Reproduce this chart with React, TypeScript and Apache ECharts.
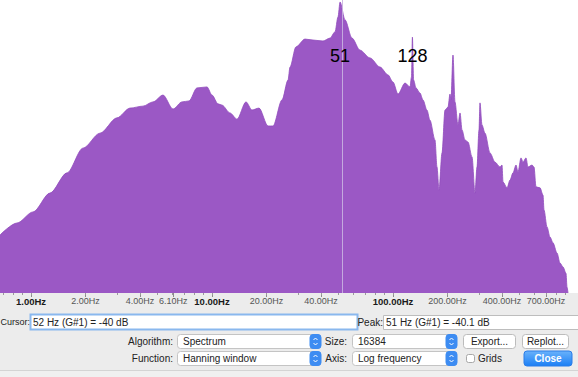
import React, { useEffect, useRef } from "react";
import * as echarts from "echarts";

// Spectrum (frequency in Hz, level in dB)
const freqHz = [
  0.674, 0.837, 1.026, 1.273, 1.581, 1.938, 2.406, 2.987, 3.524, 4.157,
  4.721, 5.362, 6.088, 6.829, 7.464, 8.263, 9.384, 10.0, 10.8, 11.36,
  12.57, 13.75, 15.41, 16.63, 18.18, 20.39, 21.73, 24.37, 26.3, 26.98,
  29.1, 32.65, 36.14, 41.05, 44.87, 47.82, 49.67, 51.0, 54.3, 59.35,
  65.7, 74.7, 84.8, 93.8, 100, 106.6, 116.5, 124.1, 126.5, 128.0,
  130.0, 134, 141, 146.5, 154, 160, 170.6, 175, 179.6, 186.5,
  193.8, 201.3, 206.5, 209.0, 214.5, 220, 228.6, 234.6, 240.6, 249.9,
  259.6, 273.3, 283.8, 291.1, 298.6, 302.4, 310.2, 322.3, 343.6, 366.1,
  390.1, 400.2, 405.3, 426.5, 443.1, 460.3, 478.2, 490.5, 509.6, 522.7,
  543.1, 557.1, 586.2, 601.2, 616.7, 649, 674.2, 682.9, 709.4, 736.9,
  765.6, 805.6, 837, 869.6, 903.3, 914.9, 926.8,
];
const levelDb = [
  -111.7, -108.0, -104.6, -98.8, -92.6, -85.0, -80.4, -75.7, -72.7, -72.1,
  -70.8, -68.7, -73.0, -70.8, -70.5, -66.5, -66.2, -68.7, -71.4, -71.8,
  -74.2, -76.1, -70.8, -73.3, -72.7, -78.2, -78.2, -70.2, -64.1, -60.1,
  -53.9, -51.5, -51.8, -52.1, -51.2, -49.3, -44.7, -40.1, -45.6, -51.2,
  -54.9, -57.3, -60.1, -62.5, -64.7, -68.4, -65.0, -66.2, -63.2, -50.9,
  -64.1, -66.5, -68.1, -70.2, -73.3, -76.4, -82.5, -90.8, -97.9, -86.5,
  -73.3, -72.4, -68.4, -70.2, -56.4, -70.8, -77.9, -74.2, -79.4, -82.5,
  -83.1, -87.7, -98.8, -90.8, -79.4, -71.1, -77.9, -80.4, -86.5, -89.3,
  -90.8, -90.2, -95.4, -97.2, -94.8, -92.6, -90.2, -92.3, -88.0, -89.3,
  -88.0, -90.8, -90.2, -90.8, -96.9, -97.2, -99.4, -104.0, -109.2, -112.3,
  -114.1, -117.2, -120.3, -121.5, -123.4, -127.7, -129.5,
];

const labelTicksHz = [1, 2, 4, 6.1, 10, 20, 40, 100, 200, 400, 700];
const minorTicksHz = [
  0.7, 0.8, 0.9, 1, 2, 3, 4, 5, 6, 7, 8, 9, 10, 20, 30, 40, 50, 60, 70, 80,
  90, 100, 200, 300, 400, 500, 600, 700, 800, 900,
];
const peakLabels = [51, 128];
const peakLabelDb = -56.7;
const cursorHz = 52;

const X_MIN = -0.1713;
const X_MAX = 3.0221;
const Y_MIN = -129.5;
const Y_MAX = -39.5;

const UI_FONT = "Liberation Sans, Arial, sans-serif";

function txt(x: number, y: number, text: string, align = "left", color = "#222", size = 10, weight = "normal") {
  return {
    type: "text",
    x,
    y,
    silent: true,
    style: {
      text,
      fill: color,
      font: `${weight} ${size}px ${UI_FONT}`,
      textAlign: align,
      textVerticalAlign: "middle",
    },
  };
}

function box(x: number, y: number, w: number, h: number, fill: any, stroke: string, r = 3, lw = 1) {
  return {
    type: "rect",
    silent: true,
    shape: { x, y, width: w, height: h, r },
    style: { fill, stroke, lineWidth: lw },
  };
}

function stepper(x: number, y: number, w: number, h: number) {
  const cx = x + w / 2;
  const cy = y + h / 2;
  return [
    box(x, y, w, h, "#3d8cf2", "#3d8cf2", 3),
    {
      type: "polyline",
      silent: true,
      shape: { points: [[cx - 2, cy - 1.5], [cx, cy - 3.5], [cx + 2, cy - 1.5]] },
      style: { stroke: "#fff", lineWidth: 1, fill: null },
    },
    {
      type: "polyline",
      silent: true,
      shape: { points: [[cx - 2, cy + 1.5], [cx, cy + 3.5], [cx + 2, cy + 1.5]] },
      style: { stroke: "#fff", lineWidth: 1, fill: null },
    },
  ];
}

export default function App() {
  const ref = useRef<HTMLDivElement>(null);

  useEffect(() => {
    if (!ref.current) return;
    const chart = echarts.init(ref.current, null, { renderer: "svg" });
    const data = freqHz.map((f, i) => [Math.log10(f), levelDb[i]]);

    const fmt = (v: number) => {
      const f = Math.pow(10, v);
      const s = f.toFixed(2) + "Hz";
      const isDecade = Math.abs(Math.log10(f) - Math.round(Math.log10(f))) < 1e-6;
      return isDecade ? `{b|${s}}` : `{n|${s}}`;
    };

    const closeGrad = new echarts.graphic.LinearGradient(0, 0, 0, 1, [
      { offset: 0, color: "#6ab2fb" },
      { offset: 1, color: "#1b7ff5" },
    ]);

    const graphics: any[] = [
      // separator near bottom
      { type: "line", silent: true, shape: { x1: 0, y1: 370.5, x2: 578, y2: 370.5 }, style: { stroke: "#d4d4d4", lineWidth: 1 } },
      { type: "rect", silent: true, shape: { x: 0, y: 371, width: 578, height: 6 }, style: { fill: "#f0f0f0" } },
      // Cursor row
      txt(0.5, 322, "Cursor:", "left", "#222", 9),
      box(30.5, 314.5, 327, 15, "#fff", "#8ab8ee", 0, 2),
      txt(33, 322, "52 Hz (G#1) = -40 dB"),
      txt(383, 322, "Peak:", "right"),
      box(383.5, 315.5, 196, 14, "#fff", "#bdbdbd", 0, 1),
      txt(386, 322.5, "51 Hz (G#1) = -40.1 dB"),
      // Algorithm row
      txt(173, 341.5, "Algorithm:", "right"),
      box(177.5, 334.5, 143, 14, "#fff", "#c4c4c4", 3),
      txt(183, 341.5, "Spectrum"),
      ...stepper(310, 334.5, 11, 14),
      txt(347, 341.5, "Size:", "right"),
      box(352.5, 334.5, 104, 14, "#fff", "#c4c4c4", 3),
      txt(358, 341.5, "16384"),
      ...stepper(446, 334.5, 11, 14),
      box(463.5, 334.5, 52, 14, "#fff", "#bcbcbc", 3),
      txt(489.5, 341.5, "Export...", "center"),
      box(522.5, 334.5, 46, 14, "#fff", "#bcbcbc", 3),
      txt(545.5, 341.5, "Replot...", "center"),
      // Function row
      txt(173, 358.5, "Function:", "right"),
      box(177.5, 351.5, 143, 14, "#fff", "#c4c4c4", 3),
      txt(183, 358.5, "Hanning window"),
      ...stepper(310, 351.5, 11, 14),
      txt(347, 358.5, "Axis:", "right"),
      box(352.5, 351.5, 104, 14, "#fff", "#c4c4c4", 3),
      txt(358, 358.5, "Log frequency"),
      ...stepper(446, 351.5, 11, 14),
      box(466.5, 354.5, 8, 8, "#fff", "#a8a8a8", 2),
      txt(478, 358.5, "Grids"),
      box(524, 351, 48, 15, closeGrad, "#2a7de8", 3),
      txt(548, 358.5, "Close", "center", "#fff", 10, "bold"),
    ];

    chart.setOption({
      animation: false,
      backgroundColor: "#ececec",
      grid: {
        left: 0,
        right: 0,
        top: 0,
        height: 293,
        show: true,
        backgroundColor: "#ffffff",
        borderWidth: 0,
      },
      xAxis: [
        {
          type: "value",
          min: X_MIN,
          max: X_MAX,
          position: "bottom",
          axisLine: { show: false },
          splitLine: { show: false },
          axisTick: {
            show: true,
            length: 4,
            lineStyle: { color: "#8c8c8c" },
            customValues: labelTicksHz.map((f) => Math.log10(f)),
          },
          axisLabel: {
            show: true,
            margin: 3,
            customValues: labelTicksHz.map((f) => Math.log10(f)),
            formatter: fmt,
            rich: {
              b: { fontFamily: UI_FONT, fontSize: 9.5, fontWeight: "bold", color: "#1a1a1a" },
              n: { fontFamily: UI_FONT, fontSize: 9, color: "#555" },
            },
          },
        },
        {
          type: "value",
          min: X_MIN,
          max: X_MAX,
          position: "bottom",
          axisLine: { show: false },
          splitLine: { show: false },
          axisLabel: { show: false },
          axisTick: {
            show: true,
            length: 2,
            lineStyle: { color: "#9a9a9a" },
            customValues: minorTicksHz.map((f) => Math.log10(f)),
          },
        },
      ],
      yAxis: {
        type: "value",
        min: Y_MIN,
        max: Y_MAX,
        show: false,
        splitLine: { show: false },
      },
      series: [
        {
          type: "line",
          data,
          xAxisIndex: 0,
          showSymbol: false,
          symbol: "none",
          silent: true,
          smooth: 0.3,
          smoothMonotone: "x",
          lineStyle: { color: "#914bbd", width: 0.8 },
          areaStyle: { color: "#9b58c5", opacity: 1, origin: "start" },
          markLine: {
            silent: true,
            symbol: ["none", "none"],
            label: { show: false },
            lineStyle: { color: "#c9b2e0", type: "solid", width: 1, opacity: 0.9 },
            data: [{ xAxis: Math.log10(cursorHz) }],
          },
          markPoint: {
            silent: true,
            symbol: "circle",
            symbolSize: 1,
            itemStyle: { color: "rgba(0,0,0,0)" },
            label: {
              show: true,
              position: "inside",
              formatter: "{b}",
              color: "#000",
              fontSize: 18,
              fontFamily: UI_FONT,
            },
            data: peakLabels.map((p) => ({
              name: String(p),
              coord: [Math.log10(p), peakLabelDb],
            })),
          },
        },
      ],
      graphic: graphics,
    });

    return () => chart.dispose();
  }, []);

  return (
    <div
      ref={ref}
      style={{ position: "fixed", left: 0, top: 0, width: 578, height: 377 }}
    />
  );
}
